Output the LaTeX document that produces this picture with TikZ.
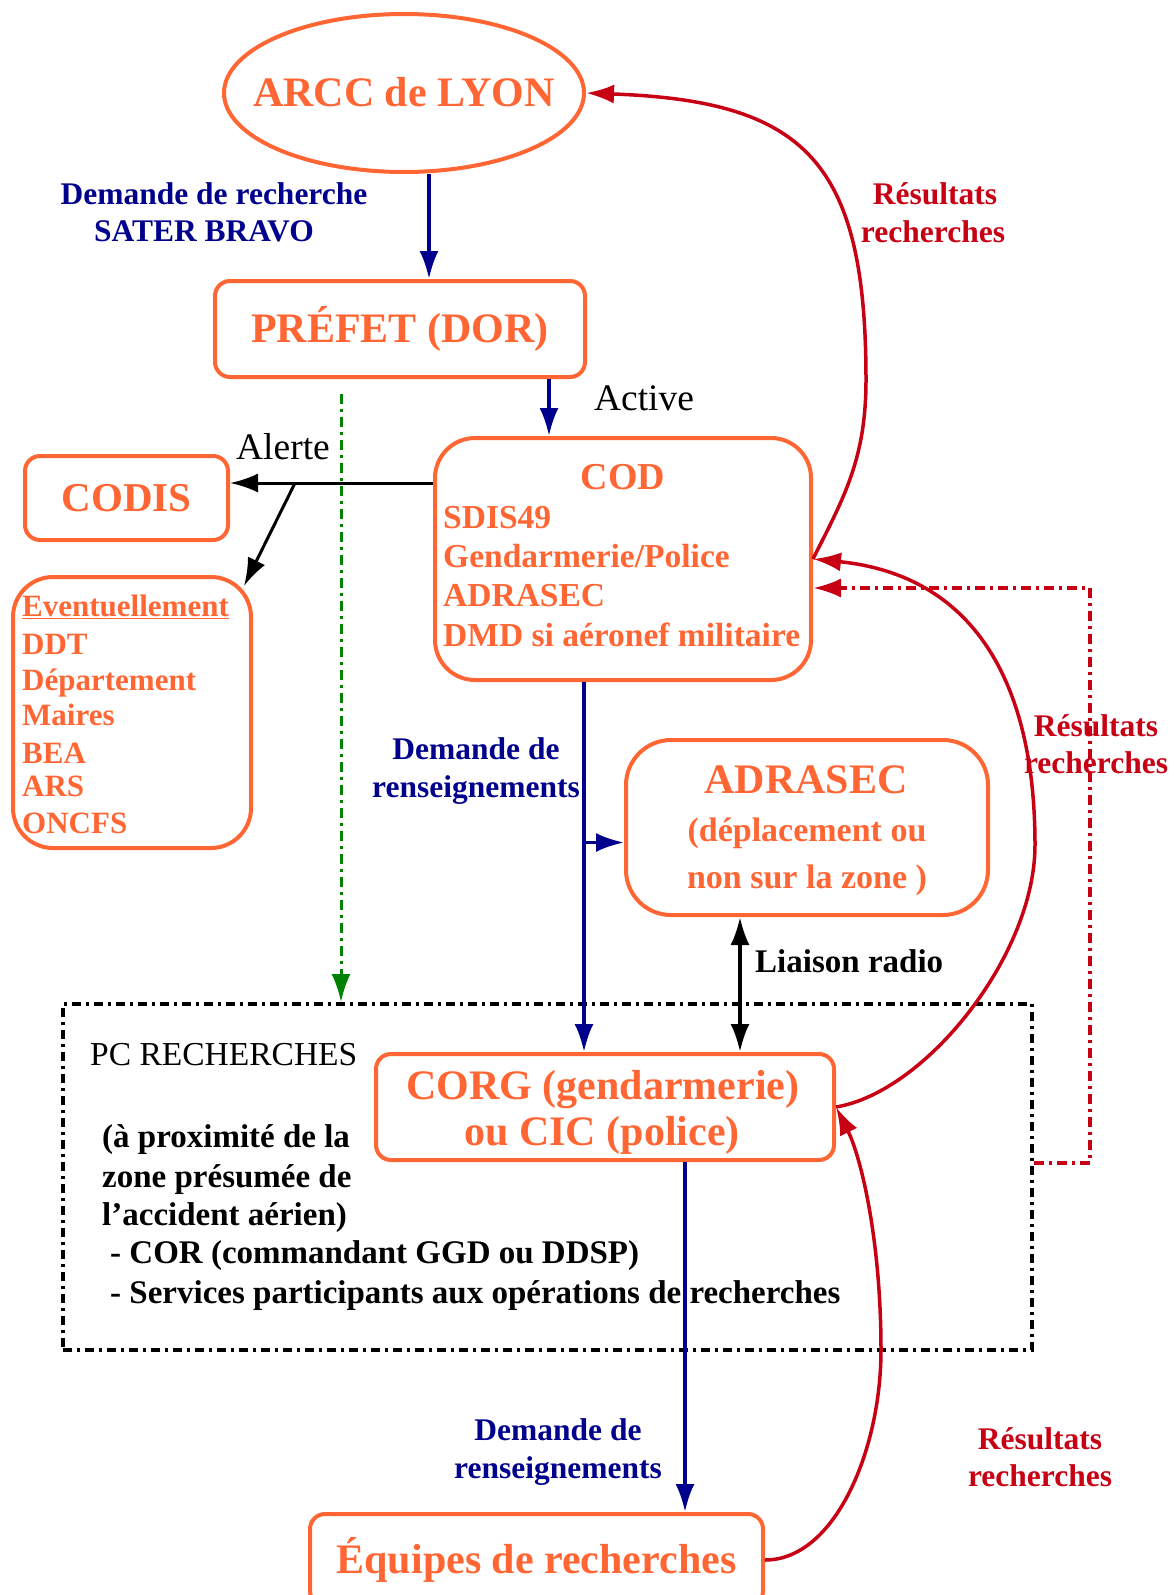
\documentclass[tikz,border=0pt]{standalone}
\usepackage{fontspec}
\setmainfont{Liberation Serif}
\usetikzlibrary{arrows.meta,calc,shapes.geometric}
\definecolor{orng}{RGB}{255,102,51}
\definecolor{dblue}{RGB}{0,0,140}
\definecolor{dred}{RGB}{200,0,20}
\definecolor{dgreen}{RGB}{0,130,0}
\newcommand{\fsz}[2]{\fontsize{#1}{#2}\selectfont}
\begin{document}
\begin{tikzpicture}[x=1pt,y=-1pt,
  obox/.style={draw=orng, line width=4pt, rounded corners=#1, inner sep=0pt, text=orng, fill=white},
  obox/.default=15pt,
  bigf/.style={font=\fsz{42}{46}\bfseries},
  otxt/.style={text=orng, inner sep=0pt, font=\fsz{31}{36}\bfseries, anchor=base west},
  codtxt/.style={text=orng, inner sep=0pt, font=\fsz{33.5}{38}\bfseries, anchor=base west},
  otxtc/.style={text=orng, inner sep=0pt, font=\fsz{34}{38}\bfseries, anchor=base},
  btxt/.style={text=dblue, inner sep=0pt, font=\fsz{31.5}{36}\bfseries, anchor=base},
  rtxt/.style={text=dred, inner sep=0pt, font=\fsz{31.5}{36}\bfseries, anchor=base},
  ktxt/.style={text=black, inner sep=0pt, font=\fsz{33}{37}\bfseries, anchor=base west},
  kreg/.style={text=black, inner sep=0pt, font=\fsz{37.5}{40}, anchor=base},
  tip/.style={-{Latex[length=28pt,width=19pt]}},
  barrow/.style={draw=dblue, line width=3.5pt, tip},
  rarrow/.style={draw=dred, line width=3.5pt, tip},
  karrow/.style={draw=black, line width=3pt, tip},
  kdarrow/.style={draw=black, line width=3.5pt, {Latex[length=28pt,width=19pt]}-{Latex[length=28pt,width=19pt]}},
  garrow/.style={draw=dgreen, line width=3pt, dash pattern=on 10pt off 5pt on 3pt off 5pt, tip},
  rdash/.style={draw=dred, line width=3.5pt, dash pattern=on 10pt off 5pt on 3pt off 5pt, tip},
  pcstyle/.style={draw=black, line width=4pt, dash pattern=on 9pt off 5pt on 3pt off 5pt, inner sep=0pt}
]
\useasboundingbox (0,0) rectangle (1174,1595);
\clip (0,0) rectangle (1174,1595);

% PC RECHERCHES zone
\node[pcstyle, minimum width=969, minimum height=346] (pcbox) at (547.5,1177) {};
\node[text=black, inner sep=0pt, font=\fsz{33.5}{37}, anchor=base west] (pct) at (90,1065) {PC RECHERCHES};
\node[ktxt] (pc1) at (102,1147) {(à proximité de la};
\node[ktxt] (pc2) at (102,1187) {zone présumée de};
\node[ktxt] (pc3) at (102,1225) {l'accident aérien)};
\node[ktxt] (pc4) at (110,1263) {- COR (commandant GGD ou DDSP)};
\node[ktxt] (pc5) at (110,1303) {- Services participants aux opérations de recherches};

% boxes
\node[ellipse, draw=orng, line width=4pt, fill=white, minimum width=360, minimum height=158, inner sep=0pt] (arcc) at (404,93) {};
\node[text=orng, bigf, inner sep=0pt, anchor=base] (arcct) at (404,106) {ARCC de LYON};
\node[obox, minimum width=370, minimum height=96, font=\fsz{42}{46}\bfseries] (prefet) at (400,329) {PRÉFET (DOR)};
\node[obox, minimum width=203, minimum height=84, font=\fsz{41}{44}\bfseries] (codis) at (126.5,498) {CODIS};

\node[obox=40pt, minimum width=376, minimum height=242] (cod) at (623,559) {};
\node[text=orng, inner sep=0pt, font=\fsz{38}{42}\bfseries, anchor=base] (codt) at (623,489) {COD};
\node[codtxt] (cod1) at (443,528) {SDIS49};
\node[codtxt] (cod2) at (443,567) {Gendarmerie/Police};
\node[codtxt] (cod3) at (443,606) {ADRASEC};
\node[codtxt] (cod4) at (443,646) {DMD si aéronef militaire};

\node[obox=40pt, minimum width=238, minimum height=271] (ev) at (132,712.5) {};
\node[otxt] (ev1) at (22,616) {\underline{Eventuellement}};
\node[otxt] (ev2) at (22,654) {DDT};
\node[otxt] (ev3) at (22,690) {Département};
\node[otxt] (ev4) at (22,725) {Maires};
\node[otxt] (ev5) at (22,763) {BEA};
\node[otxt] (ev6) at (22,796) {ARS};
\node[otxt] (ev7) at (22,833) {ONCFS};

\node[obox=45pt, minimum width=362, minimum height=175] (adrasec) at (807,827.5) {};
\node[text=orng, inner sep=0pt, font=\fsz{42}{46}\bfseries, anchor=base] (adt) at (806,793) {ADRASEC};
\node[otxtc] (ad1) at (807,841) {(déplacement ou};
\node[otxtc] (ad2) at (807,888) {non sur la zone )};

\node[obox, minimum width=458, minimum height=106] (corg) at (605,1107) {};
\node[text=orng, inner sep=0pt, font=\fsz{42}{46}\bfseries, anchor=base] (corg1) at (603,1099) {CORG (gendarmerie)};
\node[text=orng, inner sep=0pt, font=\fsz{42}{46}\bfseries, anchor=base] (corg2) at (602,1145) {ou CIC (police)};

\node[obox, minimum width=453, minimum height=92, bigf] (equipes) at (536.5,1560) {Équipes de recherches};

% labels
\node[btxt] (l1a) at (214,204) {Demande de recherche};
\node[btxt] (l1b) at (204,241) {SATER BRAVO};
\node[kreg] (lact) at (644,410) {Active};
\node[kreg] (lal) at (283,459) {Alerte};
\node[btxt] (l2a) at (476,759) {Demande de};
\node[btxt] (l2b) at (476,797) {renseignements};
\node[ktxt] (lrad) at (755,972) {Liaison radio};
\node[btxt] (l3a) at (558,1440) {Demande de};
\node[btxt] (l3b) at (558,1478) {renseignements};
\node[rtxt] (r1a) at (935,204) {Résultats};
\node[rtxt] (r1b) at (933,242) {recherches};
\node[rtxt] (r2a) at (1096,736) {Résultats};
\node[rtxt] (r2b) at (1096,773) {recherches};
\node[rtxt] (r3a) at (1040,1449) {Résultats};
\node[rtxt] (r3b) at (1040,1486) {recherches};

% connectors
\draw[barrow] ($(arcc.south)+(25,0)$) -- ($(prefet.north)+(29,0)$);
\draw[barrow] ($(prefet.south)+(149,0)$) coordinate (p1) -- (p1 |- cod.north);
\draw[garrow] ($(prefet.south)+(-59,15)$) coordinate (g1) -- (g1 |- pcbox.north);

\coordinate (a1) at ($(cod.north west)+(0,47)$);
\draw[karrow] (a1) -- (a1 -| codis.east);
\draw[karrow] ($(a1 -| codis.east)+(65,0)$) -- ($(ev.north east)+(-9,11)$);

\draw[barrow] ($(cod.south)+(-39,0)$) coordinate (c1) -- (c1 |- corg.north);
\draw[barrow] ($(c1 |- adrasec.west)+(0,15)$) -- ($(adrasec.west)+(0,15)$);
\draw[kdarrow] ($(adrasec.south)+(-67,0)$) coordinate (rr) -- (rr |- corg.north);
\draw[barrow] ($(corg.south)+(80,0)$) coordinate (e1) -- (e1 |- equipes.north);

\coordinate (w1) at (866,380);
\coordinate (w2) at (1035,845);
\coordinate (w3) at (881,1350);
\draw[rarrow] (cod.east) .. controls +(30,-60) and +(0,80) .. (w1)
  .. controls +(0,-219) and +(219,8) .. (arcc.east);
\draw[rarrow] (corg.east) .. controls +(90,-15) and +(0,110) .. (w2)
  .. controls +(0,-165) and +(159,16) .. (cod.east);
\draw[rarrow] (equipes.east) .. controls +(70,0) and +(0,100) .. (w3)
  .. controls +(0,-110) and +(25,50) .. (corg.east);
\draw[rdash] ($(pcbox.east)+(0,-14)$) -| ($(cod.east)+(277,29)$) -- ($(cod.east)+(0,29)$);
\end{tikzpicture}
\end{document}
